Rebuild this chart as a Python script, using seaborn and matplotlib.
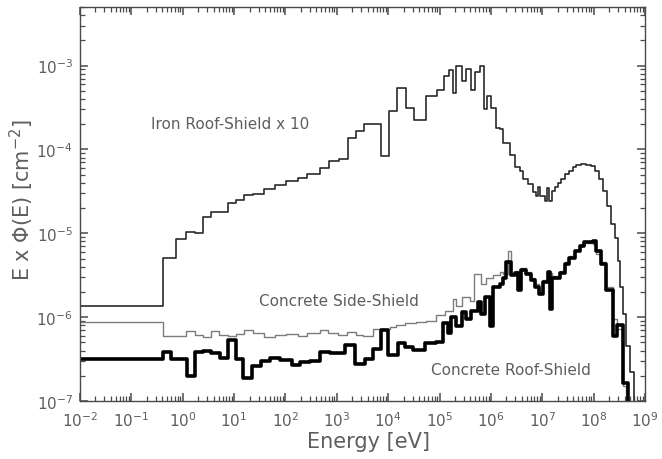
import matplotlib
matplotlib.use("Agg")
import matplotlib.pyplot as plt
import matplotlib.ticker as mticker
import numpy as np
import pandas as pd
import seaborn as sns

# bin edges are log10(E / eV); values are E x Phi(E) per bin [cm^-2]
IRON_EDGES_LOG = [
    -2.0, -0.385, -0.13, 0.06, 0.24, 0.39, 0.55, 0.71, 0.88, 1.04, 1.19, 1.37,
    1.58, 1.79, 2.02, 2.24, 2.42, 2.67, 2.84, 3.04, 3.21, 3.37, 3.53, 3.86,
    4.01, 4.17, 4.34, 4.50, 4.73, 4.95, 5.08, 5.18, 5.26, 5.33, 5.43, 5.51,
    5.61, 5.70, 5.78, 5.86, 5.92, 6.01, 6.09, 6.17, 6.24, 6.37, 6.46, 6.56,
    6.62, 6.72, 6.82, 6.88, 6.92, 6.96, 7.05, 7.10, 7.14, 7.18, 7.25, 7.31,
    7.37, 7.45, 7.53, 7.60, 7.66, 7.76, 7.86, 7.94, 8.02, 8.10, 8.18, 8.26,
    8.34, 8.42, 8.47, 8.52, 8.58, 8.64, 8.70, 8.78, 8.83,
]
IRON_VALUES = [
    1.35e-6, 5.1e-6, 8.5e-6, 1.05e-5, 1.0e-5, 1.55e-5, 1.8e-5, 1.78e-5,
    2.3e-5, 2.5e-5, 2.9e-5, 2.95e-5, 3.4e-5, 3.8e-5, 4.2e-5, 4.6e-5, 5.1e-5,
    6.0e-5, 7.2e-5, 7.8e-5, 1.38e-4, 1.66e-4, 2.04e-4, 8.3e-5, 2.9e-4,
    5.4e-4, 3.1e-4, 2.24e-4, 4.4e-4, 5.1e-4, 7.6e-4, 8.9e-4, 4.7e-4, 9.8e-4,
    6.6e-4, 9.1e-4, 5.1e-4, 8.5e-4, 9.8e-4, 3.0e-4, 4.4e-4, 3.1e-4, 1.8e-4,
    1.75e-4, 1.2e-4, 8.5e-5, 6.2e-5, 5.6e-5, 4.5e-5, 3.9e-5, 3.1e-5, 2.75e-5,
    3.6e-5, 2.75e-5, 2.4e-5, 3.5e-5, 2.4e-5, 3.2e-5, 3.6e-5, 4.0e-5, 4.5e-5,
    5.1e-5, 5.6e-5, 6.2e-5, 6.6e-5, 6.8e-5, 6.6e-5, 6.3e-5, 5.6e-5, 4.5e-5,
    3.2e-5, 2.1e-5, 1.3e-5, 8.7e-6, 4.7e-6, 2.3e-6, 1.1e-6, 4.5e-7, 2.2e-7,
    1e-8,
]

SIDE_EDGES_LOG = [
    -2.0, -0.385, 0.06, 0.24, 0.39, 0.55, 0.71, 0.88, 1.04, 1.19, 1.37, 1.58,
    1.79, 2.02, 2.24, 2.42, 2.67, 2.83, 3.03, 3.19, 3.38, 3.51, 3.71, 4.03,
    4.16, 4.32, 4.55, 4.74, 4.94, 5.10, 5.26, 5.33, 5.43, 5.59, 5.68, 5.81,
    5.91, 6.05, 6.17, 6.24, 6.33, 6.40, 6.46, 6.53, 6.59, 6.69, 6.79, 6.85,
    6.94, 7.01, 7.11, 7.19, 7.34, 7.44, 7.53, 7.63, 7.73, 7.82, 7.99, 8.05,
    8.15, 8.25, 8.38, 8.45, 8.57, 8.64, 8.70,
]
SIDE_VALUES = [
    8.8e-7, 5.9e-7, 6.8e-7, 6.2e-7, 5.8e-7, 6.9e-7, 6.1e-7, 6.0e-7, 6.3e-7,
    7.1e-7, 6.4e-7, 5.8e-7, 6.2e-7, 6.3e-7, 6.0e-7, 6.5e-7, 7.1e-7, 6.4e-7,
    6.1e-7, 6.6e-7, 6.1e-7, 6.0e-7, 7.2e-7, 7.6e-7, 8.1e-7, 8.5e-7, 8.7e-7,
    9.1e-7, 1.05e-6, 1.2e-6, 1.66e-6, 1.35e-6, 1.74e-6, 1.55e-6, 3.3e-6,
    2.5e-6, 2.95e-6, 3.2e-6, 3.5e-6, 3.3e-6, 6.2e-6, 3.4e-6, 3.6e-6, 2.6e-6,
    3.9e-6, 3.5e-6, 2.9e-6, 2.5e-6, 2.1e-6, 2.8e-6, 3.4e-6, 3.1e-6, 3.6e-6,
    4.5e-6, 5.3e-6, 6.3e-6, 7.0e-6, 7.6e-6, 7.4e-6, 5.6e-6, 4.5e-6, 2.3e-6,
    9.5e-7, 7.2e-7, 1.5e-7, 1e-8,
]

ROOF_EDGES_LOG = [
    -2.0, -0.385, -0.22, 0.075, 0.24, 0.40, 0.56, 0.72, 0.89, 1.04, 1.18,
    1.34, 1.53, 1.70, 1.89, 2.12, 2.28, 2.47, 2.67, 2.86, 3.16, 3.35, 3.545,
    3.71, 3.87, 4.00, 4.19, 4.32, 4.48, 4.71, 4.94, 5.07, 5.17, 5.23, 5.33,
    5.43, 5.52, 5.62, 5.75, 5.81, 5.88, 5.98, 6.05, 6.17, 6.24, 6.30, 6.40,
    6.46, 6.53, 6.59, 6.69, 6.79, 6.85, 6.94, 7.01, 7.11, 7.15, 7.19, 7.34,
    7.44, 7.53, 7.63, 7.73, 7.82, 7.99, 8.05, 8.15, 8.25, 8.38, 8.45, 8.57,
    8.67, 8.73,
]
ROOF_VALUES = [
    3.2e-7, 3.8e-7, 3.2e-7, 2.0e-7, 3.8e-7, 4.0e-7, 3.7e-7, 3.3e-7, 5.3e-7,
    3.2e-7, 1.9e-7, 2.6e-7, 3.0e-7, 3.3e-7, 3.1e-7, 2.7e-7, 2.9e-7, 3.0e-7,
    3.8e-7, 3.7e-7, 4.7e-7, 2.75e-7, 3.2e-7, 4.2e-7, 7.1e-7, 3.5e-7, 4.9e-7,
    4.4e-7, 4.1e-7, 4.9e-7, 5.1e-7, 8.5e-7, 6.5e-7, 1.0e-6, 7.8e-7, 1.15e-6,
    9.5e-7, 1.2e-6, 1.5e-6, 1.1e-6, 1.75e-6, 7.8e-7, 2.3e-6, 2.5e-6, 2.9e-6,
    4.5e-6, 3.2e-6, 3.4e-6, 2.1e-6, 3.7e-6, 3.3e-6, 2.75e-6, 2.3e-6, 1.9e-6,
    2.6e-6, 3.5e-6, 1.25e-6, 2.95e-6, 3.4e-6, 4.3e-6, 5.1e-6, 6.2e-6, 7.1e-6,
    7.8e-6, 8.1e-6, 6.2e-6, 4.3e-6, 2.1e-6, 5.9e-7, 8.1e-7, 1.66e-7, 1e-8,
]

LABELS = ["Iron Roof-Shield x 10", "Concrete Side-Shield", "Concrete Roof-Shield"]

TEXT_COLOR = "#5e5e5e"
AXIS_COLOR = "#4a4a4a"


def steps(edges_log, values):
    """Edges + per-bin values -> frame for a steps-post line."""
    edges = 10.0 ** np.asarray(edges_log)
    vals = list(values) + [values[-1]]
    return pd.DataFrame({"energy": edges, "flux": vals})


def minor_positions(lo, hi):
    return [m * 10.0 ** d for d in range(lo, hi) for m in range(2, 10)]


sns.set_style("ticks")
plt.rcParams["font.family"] = ["DejaVu Sans"]

fig = plt.figure(figsize=(6.62, 4.60), dpi=100)
ax = fig.add_axes([0.1208, 0.126, 0.8535, 0.8566])

curves = [
    (steps(IRON_EDGES_LOG, IRON_VALUES), "#2a2a2a", 1.2),
    (steps(SIDE_EDGES_LOG, SIDE_VALUES), "#7c7c7c", 1.0),
    (steps(ROOF_EDGES_LOG, ROOF_VALUES), "#000000", 2.6),
]
for df, color, lw in curves:
    sns.lineplot(
        data=df, x="energy", y="flux", ax=ax, estimator=None, sort=False,
        drawstyle="steps-post", color=color, linewidth=lw,
    )

ax.set_xscale("log")
ax.set_yscale("log")
ax.set_xlim(1e-2, 1e9)
ax.set_ylim(1e-7, 5e-3)

ax.xaxis.set_major_locator(mticker.FixedLocator([10.0 ** d for d in range(-2, 10)]))
ax.xaxis.set_major_formatter(mticker.LogFormatterSciNotation())
ax.xaxis.set_minor_locator(mticker.FixedLocator(minor_positions(-2, 9)))
ax.xaxis.set_minor_formatter(mticker.NullFormatter())
ax.yaxis.set_major_locator(mticker.FixedLocator([10.0 ** d for d in range(-7, -2)]))
ax.yaxis.set_major_formatter(mticker.LogFormatterSciNotation())
ax.yaxis.set_minor_locator(mticker.FixedLocator(minor_positions(-7, -2)))
ax.yaxis.set_minor_formatter(mticker.NullFormatter())

ax.tick_params(which="both", direction="in", bottom=True, top=True,
               left=True, right=True, colors=AXIS_COLOR, labelcolor=TEXT_COLOR,
               labelsize=11)
ax.tick_params(which="major", length=6, width=1.1)
ax.tick_params(which="minor", length=3.5, width=0.9)
ax.tick_params(axis="x", which="major", pad=7)
ax.tick_params(axis="y", which="major", pad=5)
for sp in ax.spines.values():
    sp.set_color(AXIS_COLOR)
    sp.set_linewidth(1.0)

ax.set_xlabel("Energy [eV]", fontsize=15, color=TEXT_COLOR)
ax.set_ylabel("E x \u03a6(E) [cm$^{-2}$]", fontsize=15, color=TEXT_COLOR)
ax.xaxis.set_label_coords(0.51, -0.075)
ax.yaxis.set_label_coords(-0.078, 0.513)

ax.text(10 ** 0.92, 2.05e-4, LABELS[0], fontsize=11, color=TEXT_COLOR, ha="center", va="center")
ax.text(10 ** 3.05, 1.6e-6, LABELS[1], fontsize=11, color=TEXT_COLOR, ha="center", va="center")
ax.text(10 ** 6.4, 2.4e-7, LABELS[2], fontsize=11, color=TEXT_COLOR, ha="center", va="center")

fig.savefig("out.png", dpi=100)
plt.close(fig)
